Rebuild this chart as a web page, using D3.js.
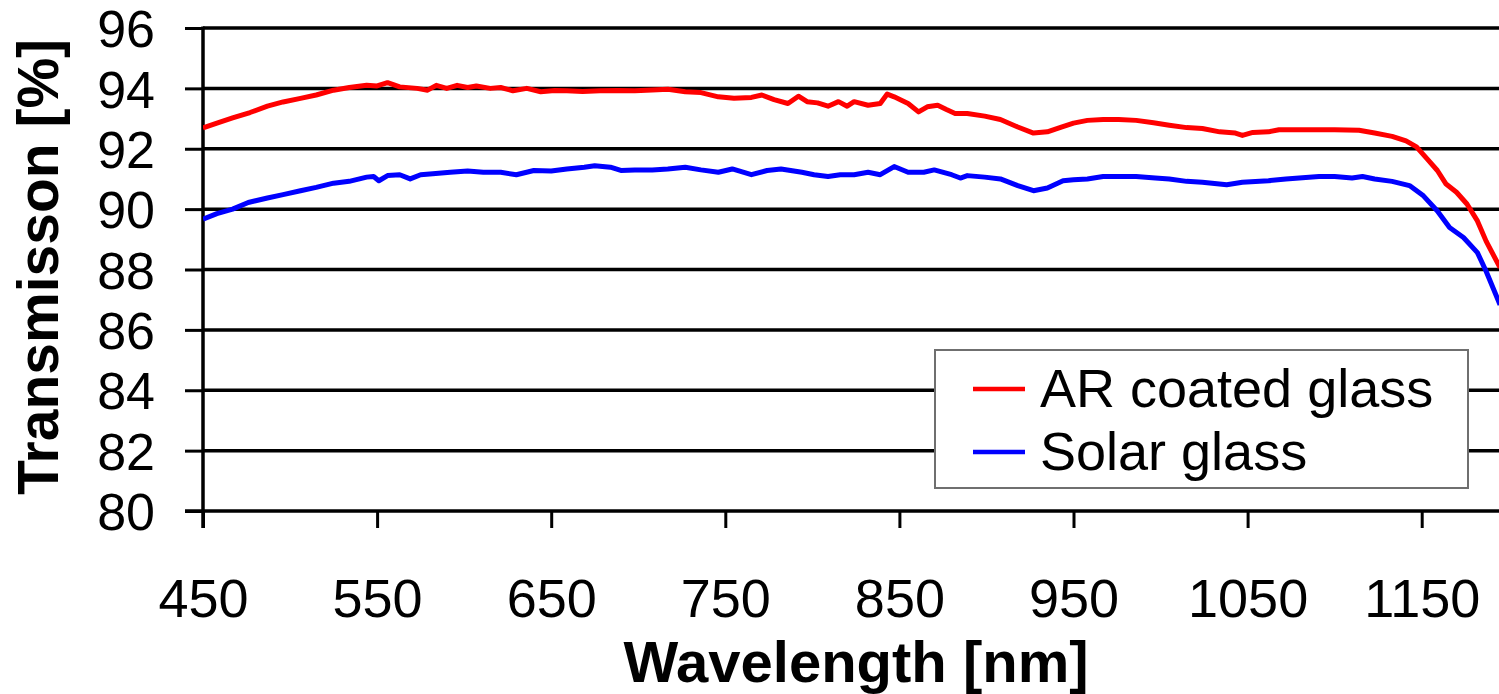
<!DOCTYPE html>
<html>
<head>
<meta charset="utf-8">
<script src="https://cdn.jsdelivr.net/npm/d3@7"></script>
<style>
  html, body { margin: 0; padding: 0; background: #fff; }
  svg { display: block; }
  text { font-family: "Liberation Sans", Arial, sans-serif; fill: #000; }
</style>
</head>
<body>
<svg id="chart" width="1499" height="694"></svg>
<script>
// Transmission spectra of coated and uncoated solar glass
const arWavelength = [450,458,467,477,487,496,506,515,525,534,544,550,556,563,573,579,584,590,596,602,607,615,621,628,636,644,652,659,668,678,688,698,708,717,727,736,746,755,765,771,778,786,792,797,803,809,815,820,824,832,839,843,847,855,861,866,872,877,882,889,899,908,918,927,935,943,950,958,967,976,986,996,1005,1015,1024,1034,1043,1047,1053,1062,1068,1081,1100,1114,1123,1133,1141,1147,1153,1159,1164,1170,1176,1182,1187,1195];
const arTransmission = [92.69,92.85,93.02,93.2,93.41,93.55,93.67,93.78,93.94,94.03,94.1,94.08,94.19,94.05,94.0,93.94,94.1,94.0,94.1,94.03,94.08,94.0,94.03,93.92,94.0,93.89,93.93,93.92,93.9,93.92,93.93,93.92,93.95,93.97,93.89,93.86,93.72,93.67,93.7,93.78,93.63,93.5,93.74,93.56,93.52,93.41,93.56,93.41,93.56,93.44,93.5,93.81,93.72,93.5,93.22,93.39,93.44,93.3,93.17,93.17,93.08,92.97,92.72,92.52,92.56,92.72,92.85,92.94,92.97,92.97,92.94,92.86,92.78,92.7,92.67,92.56,92.52,92.44,92.54,92.56,92.63,92.63,92.63,92.61,92.52,92.41,92.26,92.06,91.67,91.28,90.83,90.56,90.17,89.61,88.94,88.06];

const solarWavelength = [450,458,467,476,487,496,506,515,525,534,544,548,551,556,563,569,575,582,592,602,611,621,630,640,650,659,669,675,684,690,698,708,717,727,736,746,754,765,774,782,794,801,809,816,824,832,839,847,855,864,870,880,885,889,899,908,918,927,935,944,950,958,967,986,997,1005,1015,1024,1038,1047,1062,1072,1091,1100,1110,1116,1123,1133,1143,1151,1159,1166,1174,1182,1187,1195];
const solarTransmission = [89.67,89.85,90.0,90.22,90.37,90.48,90.61,90.72,90.86,90.92,91.06,91.08,90.94,91.11,91.14,91.0,91.14,91.17,91.22,91.26,91.22,91.22,91.14,91.28,91.26,91.33,91.39,91.44,91.39,91.28,91.3,91.3,91.33,91.39,91.3,91.22,91.33,91.14,91.28,91.33,91.22,91.14,91.08,91.14,91.14,91.22,91.14,91.41,91.22,91.22,91.3,91.14,91.03,91.11,91.06,91.0,90.78,90.61,90.7,90.94,90.97,91.0,91.08,91.08,91.03,91.0,90.92,90.89,90.81,90.89,90.94,91.0,91.08,91.08,91.03,91.08,91.0,90.92,90.78,90.44,89.94,89.39,89.06,88.56,87.94,86.83];

const xTicks = [450,550,650,750,850,950,1050,1150];
const yTicks = [80,82,84,86,88,90,92,94,96];

const seriesNames = ["AR coated glass", "Solar glass"];
const seriesColors = ["#ff0000", "#0000ff"];

const svg = d3.select("#chart");
const W = 1499;

const x = d3.scaleLinear().domain([450, 1200]).range([203, 1508.75]);
const y = d3.scaleLinear().domain([80, 96]).range([511, 28]);

svg.append("defs").append("clipPath").attr("id", "plotClip")
  .append("rect").attr("x", 203).attr("y", 0).attr("width", W - 203).attr("height", 511);

// horizontal gridlines
svg.append("g").selectAll("line").data(yTicks.filter(d => d > 80)).join("line")
  .attr("x1", 203).attr("x2", W)
  .attr("y1", d => y(d)).attr("y2", d => y(d))
  .attr("stroke", "#000").attr("stroke-width", 3.5);

// y axis
const yAxis = d3.axisLeft(y).tickValues(yTicks).tickSize(18).tickPadding(30).tickFormat(d3.format("d"));
const gy = svg.append("g").attr("transform", "translate(203,0)").call(yAxis);
gy.select(".domain").remove();
gy.selectAll(".tick line").attr("stroke", "#000").attr("stroke-width", 3);
gy.selectAll(".tick text").attr("font-size", 52).attr("font-family", "Liberation Sans, Arial, sans-serif")
  .attr("dy", "0.36em").attr("x", -48);
svg.append("line").attr("x1", 203).attr("x2", 203).attr("y1", y(96) - 1.5).attr("y2", 528)
  .attr("stroke", "#000").attr("stroke-width", 3.5);

// x axis
const xAxis = d3.axisBottom(x).tickValues(xTicks).tickSize(17).tickPadding(0).tickFormat(d3.format("d"));
const gx = svg.append("g").attr("transform", "translate(0,511)").call(xAxis);
gx.select(".domain").remove();
gx.selectAll(".tick line").attr("stroke", "#000").attr("stroke-width", 3);
gx.selectAll(".tick text").attr("font-size", 54).attr("font-family", "Liberation Sans, Arial, sans-serif")
  .attr("dy", null).attr("y", 106);
svg.append("line").attr("x1", 185).attr("x2", W).attr("y1", 511).attr("y2", 511)
  .attr("stroke", "#000").attr("stroke-width", 3.5);

// spectra
const line = d3.line().x(d => x(d[0])).y(d => y(d[1]));
const series = [
  d3.zip(arWavelength, arTransmission),
  d3.zip(solarWavelength, solarTransmission)
];
svg.append("g").attr("clip-path", "url(#plotClip)")
  .selectAll("path").data(series).join("path")
  .attr("d", line)
  .attr("fill", "none")
  .attr("stroke", (d, i) => seriesColors[i])
  .attr("stroke-width", 5)
  .attr("stroke-linejoin", "round");

// axis titles
svg.append("text").attr("x", 856).attr("y", 682).attr("text-anchor", "middle")
  .attr("font-size", 58).attr("font-weight", "bold").text("Wavelength [nm]");
svg.append("text").attr("transform", "translate(58,267) rotate(-90)").attr("text-anchor", "middle")
  .attr("font-size", 57).attr("font-weight", "bold").text("Transmisson [%]");

// legend
const lg = svg.append("g");
lg.append("rect").attr("x", 935).attr("y", 350).attr("width", 533).attr("height", 138)
  .attr("fill", "#fff").attr("stroke", "#6f6f6f").attr("stroke-width", 2);
const rows = lg.selectAll("g.row").data(seriesNames).join("g").attr("class", "row")
  .attr("transform", (d, i) => `translate(0,${389 + i * 63})`);
rows.append("line").attr("x1", 973).attr("x2", 1025).attr("y1", 0).attr("y2", 0)
  .attr("stroke", (d, i) => seriesColors[i]).attr("stroke-width", 4.5);
rows.append("text").attr("x", 1040).attr("y", 18).attr("font-size", 54).text(d => d);
</script>
</body>
</html>
